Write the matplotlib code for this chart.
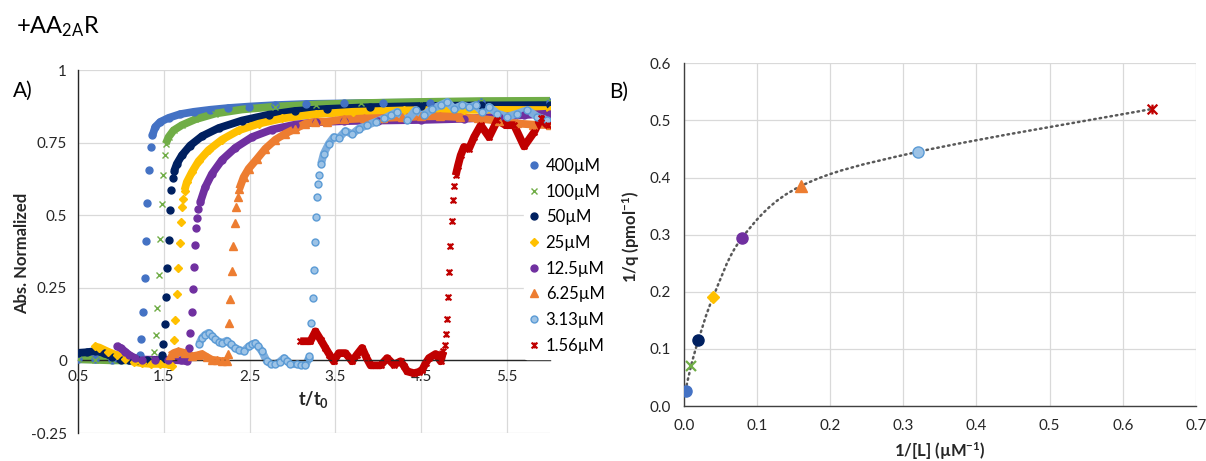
import matplotlib
matplotlib.use("Agg")
import matplotlib.pyplot as plt
import numpy as np
from matplotlib.lines import Line2D
from matplotlib.path import Path
from matplotlib.patches import PathPatch

plt.rcParams['font.family'] = ['Lato', 'DejaVu Sans']
plt.rcParams['mathtext.fontset'] = 'custom'
plt.rcParams['mathtext.rm'] = 'Lato'
plt.rcParams['mathtext.bf'] = 'Lato:bold'
plt.rcParams['mathtext.it'] = 'Lato:italic'

nan = np.nan

# --- panel A: normalized absorbance traces (trace = baseline + plateau, r = sparse rising points)
t400 = [0.5, 0.7, 0.9, 1.1, 1.2, nan, 1.368, 1.40, 1.457, 1.555, 1.69, 1.85, 2.04, 2.25, 2.49, 2.8, 3.16, 3.6, 4.05, 4.6, 5.2, 6.0]
y400 = [0.004, 0.004, 0.003, 0.003, 0.006, nan, 0.775, 0.804, 0.821, 0.835, 0.848, 0.856, 0.863, 0.869, 0.874, 0.879, 0.883, 0.885, 0.887, 0.888, 0.889, 0.889]
t400_r = [1.224, 1.239, 1.259, 1.278, 1.29, 1.305, 1.329, 1.348]
y400_r = [0.017, 0.072, 0.165, 0.284, 0.412, 0.541, 0.654, 0.735]

t100 = [0.5, 0.7, 0.9, 1.1, 1.3, 1.38, nan, 1.523, 1.555, 1.613, 1.71, 1.866, 2.1, 2.41, 2.8, 3.27, 3.8, 4.5, 5.2, 6.0]
y100 = [0.004, 0.002, 0.0, 0.0, 0.0, 0.0, nan, 0.746, 0.769, 0.792, 0.81, 0.83, 0.85, 0.864, 0.874, 0.881, 0.886, 0.89, 0.893, 0.894]
t100_r = [1.391, 1.407, 1.426, 1.442, 1.461, 1.477, 1.492, 1.508]
y100_r = [0.028, 0.089, 0.181, 0.295, 0.418, 0.539, 0.64, 0.709]

t50 = [0.5, 0.6, 0.7, 0.8, 0.9, 1.0, 1.1, 1.2, 1.3, 1.4, 1.47, nan, 1.621, 1.652, 1.71, 1.807, 1.944, 2.138, 2.41, 2.72, 3.03, 3.4, 3.9, 4.5, 5.2, 6.0]
y50 = [0.026, 0.028, 0.032, 0.026, 0.012, 0.003, 0.0, 0.0, 0.0, 0.0, 0.003, nan, 0.652, 0.677, 0.706, 0.74, 0.772, 0.8, 0.826, 0.846, 0.859, 0.866, 0.872, 0.876, 0.878, 0.879]
t50_r = [1.484, 1.496, 1.508, 1.523, 1.539, 1.558, 1.574, 1.586, 1.605]
y50_r = [0.017, 0.057, 0.126, 0.218, 0.319, 0.415, 0.517, 0.586, 0.629]

t25 = [0.7, 0.75, 0.85, 0.95, 1.05, 1.15, 1.25, 1.35, 1.45, 1.55, 1.6, nan, 1.741, 1.768, 1.827, 1.905, 2.021, 2.177, 2.372, 2.605, 2.877, 3.27, 3.7, 4.3, 5.0, 6.0]
y25 = [0.048, 0.044, 0.03, 0.018, 0.004, -0.005, -0.01, -0.012, -0.012, -0.014, -0.018, nan, 0.585, 0.614, 0.648, 0.686, 0.724, 0.76, 0.792, 0.815, 0.833, 0.848, 0.856, 0.861, 0.863, 0.862]
t25_r = [1.617, 1.636, 1.652, 1.667, 1.683, 1.695, 1.71, 1.722]
y25_r = [0.069, 0.138, 0.227, 0.318, 0.405, 0.478, 0.527, 0.557]

t12 = [0.95, 1.0, 1.05, 1.1, 1.165, 1.25, 1.4, 1.55, 1.7, 1.77, nan, 1.924, 1.982, 2.06, 2.177, 2.333, 2.527, 2.76, 3.03, 3.27, 3.6, 4.0, 4.5, 5.0, 5.4, 5.7, 6.0]
y12 = [0.051, 0.042, 0.03, 0.018, 0.008, 0.003, 0.002, 0.002, 0.0, -0.003, nan, 0.544, 0.596, 0.642, 0.69, 0.732, 0.769, 0.795, 0.812, 0.82, 0.824, 0.826, 0.828, 0.832, 0.838, 0.845, 0.85]
t12_r = [1.792, 1.807, 1.823, 1.835, 1.846, 1.862, 1.874, 1.881, 1.901]
y12_r = [0.043, 0.096, 0.167, 0.245, 0.323, 0.398, 0.456, 0.49, 0.52]

t6 = [1.574, 1.62, 1.671, 1.75, 1.827, 1.9, 1.944, 2.0, 2.06, 2.12, 2.177, 2.235, nan,
      2.379, 2.43, 2.488, 2.586, 2.683, 2.8, 2.916, 3.033, 3.15, 3.266, 3.4, 3.6, 3.83, 4.05, 4.27, 4.5, 4.72, 4.95, 5.16, 5.4, 5.61, 5.8, 6.0]
y6 = [0.017, 0.026, 0.031, 0.025, 0.014, 0.018, 0.022, 0.012, 0.002, 0.0, -0.003, -0.001, nan,
      0.59, 0.631, 0.66, 0.694, 0.729, 0.76, 0.781, 0.798, 0.815, 0.822, 0.822, 0.83, 0.833, 0.835, 0.837, 0.84, 0.841, 0.838, 0.833, 0.825, 0.816, 0.812, 0.81]
t6_r = [2.243, 2.259, 2.274, 2.294, 2.309, 2.325, 2.34, 2.36]
y6_r = [0.023, 0.128, 0.213, 0.308, 0.394, 0.472, 0.529, 0.564]

t3 = [1.912, 1.944, 1.98, 2.021, 2.06, 2.1, 2.14, 2.177, 2.235, 2.28, 2.33, 2.38, 2.43, 2.488, 2.53, 2.566, 2.6, 2.644, 2.7, 2.75,
      2.8, 2.85, 2.9, 2.94, 2.975, 3.05, 3.1, 3.15, 3.19, nan,
      3.333, 3.364, 3.422, 3.48, 3.539, 3.617, 3.694, 3.772, 3.87, 3.967, 4.064, 4.142, 4.22, 4.337, 4.434, 4.531,
      4.628, 4.726, 4.804, 4.881, 4.979, 5.056, 5.134, 5.212, 5.29, 5.387, 5.504, 5.62, 5.737, 5.854, 5.97]
y3 = [0.057, 0.077, 0.088, 0.095, 0.085, 0.072, 0.065, 0.06, 0.068, 0.055, 0.043, 0.036, 0.031, 0.048, 0.055, 0.06, 0.048, 0.031, -0.003, -0.012,
      -0.013, -0.005, 0.008, -0.002, -0.013, -0.013, -0.015, -0.017, 0.008, nan,
      0.677, 0.712, 0.746, 0.769, 0.766, 0.79, 0.779, 0.798, 0.81, 0.821, 0.833, 0.844, 0.856, 0.827, 0.862, 0.844,
      0.867, 0.879, 0.89, 0.867, 0.879, 0.871, 0.879, 0.856, 0.873, 0.85, 0.839, 0.85, 0.862, 0.839, 0.827]
t3_r = [3.189, 3.22, 3.235, 3.247, 3.259, 3.274, 3.286, 3.298, 3.313]
y3_r = [0.014, 0.129, 0.216, 0.311, 0.408, 0.495, 0.562, 0.608, 0.64]

t1 = [3.09, 3.15, 3.208, 3.267, 3.33, 3.383, 3.43, 3.48, 3.539, 3.617, 3.694, 3.75, 3.811, 3.86, 3.909, 3.96, 4.025, 4.103,
      4.181, 4.259, 4.3, 4.337, 4.414, 4.47, 4.512, 4.55, 4.59, 4.667, 4.726, 4.757, nan,
      4.901, 4.928, 4.959, 4.998, 5.056, 5.115, 5.193, 5.29, 5.387, 5.484, 5.582, 5.698, 5.815, 5.893, 5.971]
y1 = [0.066, 0.066, 0.066, 0.1, 0.07, 0.043, 0.02, -0.003, 0.025, 0.025, -0.003, 0.02, 0.043, 0.01, -0.017, -0.017, -0.017, 0.008,
      -0.015, -0.003, -0.02, -0.038, -0.044, -0.04, -0.032, -0.01, 0.008, 0.022, -0.003, 0.031, nan,
      0.637, 0.671, 0.706, 0.735, 0.729, 0.769, 0.81, 0.769, 0.827, 0.81, 0.81, 0.737, 0.786, 0.833, 0.81]
t1_r = [4.772, 4.784, 4.796, 4.807, 4.823, 4.838, 4.854, 4.866, 4.881]
y1_r = [0.052, 0.091, 0.144, 0.219, 0.306, 0.393, 0.481, 0.552, 0.602]

labels = ['400µM', '100µM', '50µM', '25µM', '12.5µM', '6.25µM', '3.13µM', '1.56µM']

# --- panel B: double reciprocal
inv_L = [0.0025, 0.01, 0.02, 0.04, 0.08, 0.16, 0.32, 0.64]
inv_q = [0.027, 0.07, 0.115, 0.19, 0.295, 0.385, 0.445, 0.52]

# excel-like star marker (x with a vertical bar)
star = Path([(-1, -1), (1, 1), (-1, 1), (1, -1), (0, -1), (0, 1)],
            [Path.MOVETO, Path.LINETO, Path.MOVETO, Path.LINETO, Path.MOVETO, Path.LINETO])

styles = [
    dict(marker='o', mfc='#4472C4', mec='#4472C4', lc='#4472C4'),
    dict(marker='x', mfc='#70AD47', mec='#70AD47', lc='#70AD47'),
    dict(marker='o', mfc='#002060', mec='#002060', lc='#002060'),
    dict(marker='D', mfc='#FFC000', mec='#FFC000', lc='#FFC000'),
    dict(marker='o', mfc='#7030A0', mec='#7030A0', lc='#7030A0'),
    dict(marker='^', mfc='#ED7D31', mec='#ED7D31', lc='#ED7D31'),
    dict(marker='o', mfc='#9DC3E6', mec='#5B9BD5', lc='#7FAEDD'),
    dict(marker=star, mfc='#C00000', mec='#C00000', lc='#C00000'),
]

traces = [(t400, y400, t400_r, y400_r), (t100, y100, t100_r, y100_r), (t50, y50, t50_r, y50_r),
          (t25, y25, t25_r, y25_r), (t12, y12, t12_r, y12_r), (t6, y6, t6_r, y6_r),
          (t3, y3, t3_r, y3_r), (t1, y1, t1_r, y1_r)]


def marker_size(m):
    if m == 'D':
        return 4.2
    if m == 'x':
        return 4.6
    if m == '^':
        return 5.2
    if isinstance(m, str):
        return 5.0
    return 4.2


fig = plt.figure(figsize=(12.06, 4.61), dpi=100)
fig.patch.set_facecolor('white')

# ---------------- panel A
ax = fig.add_axes([78 / 1206, 1 - 433 / 461, 472 / 1206, 363 / 461])
grid_c = '#D9D9D9'
for (t, y, tr, yr), st in zip(traces, styles):
    ms = marker_size(st['marker'])
    mew = 1.5 if not isinstance(st['marker'], str) else 1.0
    ax.plot(t, y, '-', color=st['lc'], lw=5.6, solid_capstyle='butt', solid_joinstyle='round', zorder=2)
    ax.plot(t, y, ls='none', marker=st['marker'], ms=ms, mfc=st['mfc'], mec=st['mec'], mew=mew, zorder=3)
    ax.plot(tr, yr, ls='none', marker=st['marker'], ms=ms, mfc=st['mfc'], mec=st['mec'], mew=mew, zorder=3)

ax.set_xlim(0.5, 6)
ax.set_ylim(-0.25, 1)
ax.set_xticks([0.5, 1.5, 2.5, 3.5, 4.5, 5.5])
ax.set_xticklabels(['0.5', '1.5', '2.5', '3.5', '4.5', '5.5'])
ax.set_yticks([-0.25, 0, 0.25, 0.5, 0.75, 1])
ax.set_yticklabels(['-0.25', '0', '0.25', '0.5', '0.75', '1'])
ax.grid(True, color=grid_c, lw=0.9)
ax.set_axisbelow(True)
for s in ['top', 'right']:
    ax.spines[s].set_visible(False)
ax.spines['bottom'].set_position(('data', 0))
ax.spines['bottom'].set_color('#262626')
ax.spines['left'].set_color('#262626')
ax.spines['bottom'].set_linewidth(1.0)
ax.spines['left'].set_linewidth(1.0)
ax.tick_params(length=0, labelsize=11, colors='#262626')
ax.tick_params(axis='x', pad=7)
ax.tick_params(axis='y', pad=8)

fig.text(22 / 1206, 1 - 253 / 461, 'Abs. Normalized', rotation=90, ha='center', va='center',
         fontsize=12, fontweight='bold', color='#262626')
fig.text(314 / 1206, 1 - 399 / 461, r'$\mathbf{t/t_0}$', ha='center', va='center', fontsize=13, color='#262626')
fig.text(13 / 1206, 1 - 91 / 461, 'A)', ha='left', va='center', fontsize=15)
fig.text(16 / 1206, 1 - 33 / 461, r'+AA$_{\mathrm{2A}}$R', ha='left', va='baseline', fontsize=17)

handles = [Line2D([], [], ls='none', marker=st['marker'], ms=marker_size(st['marker']),
                  mfc=st['mfc'], mec=st['mec'], mew=1.5 if not isinstance(st['marker'], str) else 1.0)
           for st in styles]
fig.legend(handles, labels, loc='upper left', bbox_to_anchor=(524 / 1206, 1 - 153 / 461),
           frameon=True, facecolor='white', edgecolor='white', framealpha=1, fontsize=12,
           handlelength=0.6, handletextpad=0.4, labelspacing=0.58, borderpad=0.3, borderaxespad=0)

# ---------------- panel B
bx = fig.add_axes([683.7 / 1206, 1 - 406 / 461, 512.3 / 1206, 342.7 / 461])
xs = np.array(inv_L)
ys = np.array(inv_q)
pts = np.column_stack([xs, ys])
ext = np.vstack([pts[0], pts, pts[-1]])
verts = [pts[0]]
codes = [Path.MOVETO]
for i in range(len(pts) - 1):
    p0, p1, p2, p3 = ext[i], ext[i + 1], ext[i + 2], ext[i + 3]
    verts += [p1 + (p2 - p0) / 6, p2 - (p3 - p1) / 6, p2]
    codes += [Path.CURVE4] * 3
bx.add_patch(PathPatch(Path(verts, codes), fill=False, edgecolor='#595959', lw=1.8,
                       linestyle=(0, (0.6, 1.6)), capstyle='round', zorder=2))

for x, y, st in zip(inv_L, inv_q, styles):
    m = st['marker']
    ms = {'o': 8, 'x': 7, 'D': 6.5, '^': 8}.get(m, 7) if isinstance(m, str) else 7
    mew = 1.6 if (m == 'x' or not isinstance(m, str)) else 1.0
    bx.plot([x], [y], ls='none', marker=m, ms=ms, mfc=st['mfc'], mec=st['mec'], mew=mew, zorder=3)

bx.set_xlim(0, 0.7)
bx.set_ylim(0, 0.6)
bx.set_xticks(np.arange(0, 0.71, 0.1))
bx.set_yticks(np.arange(0, 0.61, 0.1))
bx.set_xticklabels(['%.1f' % v for v in np.arange(0, 0.71, 0.1)])
bx.set_yticklabels(['%.1f' % v for v in np.arange(0, 0.61, 0.1)])
bx.grid(True, color=grid_c, lw=0.9)
bx.set_axisbelow(True)
for s in ['top', 'right']:
    bx.spines[s].set_visible(False)
for s in ['left', 'bottom']:
    bx.spines[s].set_color('#404040')
    bx.spines[s].set_linewidth(1.0)
bx.tick_params(length=0, labelsize=11, colors='#262626')
bx.tick_params(axis='x', pad=9)
bx.tick_params(axis='y', pad=9)

fig.text(631 / 1206, 1 - 237 / 461, r'1/q (pmol$^{\mathbf{-1}}$)', rotation=90, ha='center', va='center',
         fontsize=12, fontweight='bold', color='#262626')
fig.text(940 / 1206, 1 - 451 / 461, r'1/[L] (µM$^{\mathbf{-1}}$)', ha='center', va='center',
         fontsize=12, fontweight='bold', color='#262626')
fig.text(609 / 1206, 1 - 92 / 461, 'B)', ha='left', va='center', fontsize=15)

fig.savefig('out.png', dpi=100, facecolor='white')
